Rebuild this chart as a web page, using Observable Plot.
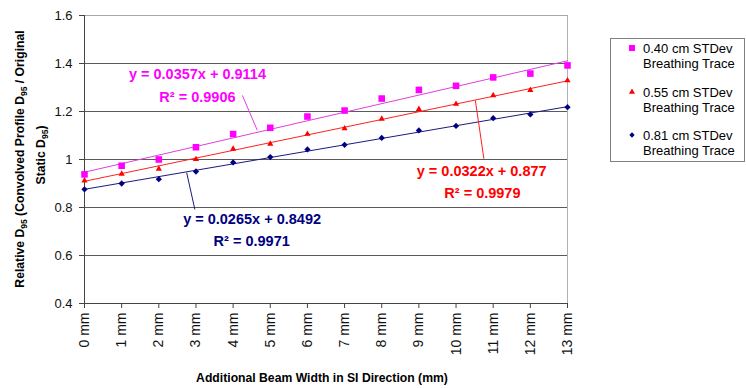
<!DOCTYPE html>
<html><head><meta charset="utf-8">
<script src="https://cdn.jsdelivr.net/npm/d3@7"></script>
<script src="https://cdn.jsdelivr.net/npm/@observablehq/plot@0.6"></script>
<style>body{margin:0;background:#fff;}#chart{width:746px;height:388px;}</style>
</head><body><div id="chart"></div>
<script>
// ---- data ----
const categories = ["0 mm","1 mm","2 mm","3 mm","4 mm","5 mm","6 mm","7 mm","8 mm","9 mm","10 mm","11 mm","12 mm","13 mm"];
const seriesLine1 = ["0.40 cm STDev","0.55 cm STDev","0.81 cm STDev"];
const seriesLine2 = ["Breathing Trace","Breathing Trace","Breathing Trace"];
const values040 = [0.938,0.974,1.000,1.051,1.106,1.132,1.179,1.204,1.254,1.290,1.307,1.342,1.358,1.392];
const values055 = [0.912,0.940,0.961,1.001,1.044,1.065,1.106,1.129,1.169,1.210,1.231,1.267,1.289,1.329];
const values081 = [0.876,0.900,0.918,0.950,0.988,1.010,1.042,1.061,1.090,1.121,1.140,1.172,1.188,1.218];
const slopes = [0.0357,0.0322,0.0265];
const intercepts = [0.9114,0.877,0.8492];
const rSquared = ["0.9906","0.9979","0.9971"];
const yTicks = [0.4,0.6,0.8,1.0,1.2,1.4,1.6];
const gridValues = [0.6,0.8,1.0,1.2,1.4];
// annotation anchors (data units): equation, R², leader start/end
const eqPos = [[3.04,1.354],[10.69,0.950],[4.51,0.750]];
const r2Pos = [[3.04,1.258],[10.71,0.858],[4.50,0.658]];
const leaders = [[4.25,1.267,4.65,1.122],[10.52,1.246,10.75,1.003],[2.75,0.945,2.97,0.792]];

// ---- styles ----
const colors = ["#ff00ff","#ff0000","#000080"];
const lineColors = ["#e040e0","#ff2020","#1a1a80"];
const diamond = {draw(ctx,size){const h=Math.sqrt(size/2);ctx.moveTo(0,-h);ctx.lineTo(h,0);ctx.lineTo(0,h);ctx.lineTo(-h,0);ctx.closePath();}};

const allSeries = [values040, values055, values081];
const points = allSeries.map(vals => vals.map((v,i)=>({x:i,y:v})));
const trends = slopes.map((m,s)=>[0,categories.length-1].map(i=>({x:i,y:intercepts[s]+m*(i+1)})));
const eqData = eqPos.map((p,s)=>({x:p[0],y:p[1],s,text:`y = ${slopes[s]}x + ${intercepts[s]}`}));
const r2Data = r2Pos.map((p,s)=>({x:p[0],y:p[1],s,text:`R² = ${rSquared[s]}`}));
const leaderData = leaders.map((l,s)=>({x1:l[0],y1:l[1],x2:l[2],y2:l[3],s}));

const plot = Plot.plot({
  width:746, height:388,
  marginLeft:84, marginRight:179, marginTop:15, marginBottom:85,
  style:{fontFamily:"'Liberation Sans', Arial, sans-serif", fontSize:"13px", background:"white", color:"#000", overflow:"visible"},
  x:{domain:[0,categories.length-1]},
  y:{domain:[0.4,1.6]},
  marks:[
    Plot.ruleY(gridValues,{stroke:"#5a5a5a",strokeWidth:1}),
    Plot.ruleY([1.6],{stroke:"#a8a8a8"}),
    Plot.ruleX([categories.length-1],{stroke:"#b0b0b0"}),
    Plot.ruleY([0.4],{stroke:"#444"}),
    Plot.ruleX([0],{stroke:"#444"}),
    Plot.axisY({ticks:yTicks, tickFormat:d=>String(+d.toFixed(1)), tickSize:5, tickPadding:7, label:null, stroke:"#444", fill:"#111", fontSize:13}),
    Plot.axisX({ticks:d3.range(categories.length), tickFormat:i=>categories[i], tickRotate:-90, tickSize:5, tickPadding:4, label:null, stroke:"#444", fill:"#111", fontSize:14}),
    ...trends.map((t,s)=>Plot.line(t,{x:"x",y:"y",stroke:lineColors[s],strokeWidth:1})),
    Plot.link(leaderData,{x1:"x1",y1:"y1",x2:"x2",y2:"y2",stroke:d=>lineColors[d.s],strokeWidth:1}),
    Plot.dot(points[2],{x:"x",y:"y",symbol:diamond,r:2.5,fill:colors[2],stroke:"none"}),
    Plot.dot(points[1],{x:"x",y:"y",symbol:"triangle",r:2.3,fill:colors[1],stroke:"none"}),
    Plot.dot(points[0],{x:"x",y:"y",symbol:"square",r:3.7,fill:colors[0],stroke:"none"}),
    Plot.text(eqData,{x:"x",y:"y",text:"text",fill:d=>colors[d.s],fontWeight:"bold",fontSize:14.5}),
    Plot.text(r2Data,{x:"x",y:"y",text:"text",fill:d=>colors[d.s],fontWeight:"bold",fontSize:14.5})
  ]
});
document.getElementById("chart").appendChild(plot);

// ---- titles & legend ----
const svg = d3.select(plot);
const tg = svg.append("g").attr("font-weight","bold").attr("font-size",12.2).attr("text-anchor","middle").attr("fill","#000");
function subText(sel, parts){
  parts.forEach(p=>{
    if(p.sub){ sel.append("tspan").attr("font-size",8.5).attr("dy",3).text(p.t); }
    else { sel.append("tspan").attr("dy", p.after ? -3 : 0).text(p.t); }
  });
}
const l1 = tg.append("text").attr("transform","translate(24,159) rotate(-90)");
subText(l1,[{t:"Relative D"},{t:"95",sub:true},{t:" (Convolved Profile D",after:true},{t:"95",sub:true},{t:" / Original",after:true}]);
const l2 = tg.append("text").attr("transform","translate(45,155) rotate(-90)");
subText(l2,[{t:"Static D"},{t:"95",sub:true},{t:")",after:true}]);
tg.append("text").attr("x",322).attr("y",382).text("Additional Beam Width in SI Direction (mm)");

const lg = svg.append("g").attr("font-size",13).attr("fill","#000").attr("text-anchor","start");
lg.append("rect").attr("x",610.5).attr("y",38.5).attr("width",134).attr("height",123).attr("fill","white").attr("stroke","#808080");
const legendY = [48,92,135];
const legendSyms = [d3.symbol(d3.symbolSquare,36), d3.symbol(d3.symbolTriangle,16), d3.symbol(diamond,14)];
legendY.forEach((y,s)=>{
  lg.append("path").attr("transform",`translate(632,${y})`).attr("d",legendSyms[s]()).attr("fill",colors[s]);
  lg.append("text").attr("x",643).attr("y",y).attr("dy","0.35em").text(seriesLine1[s]);
  lg.append("text").attr("x",643).attr("y",y+15).attr("dy","0.35em").text(seriesLine2[s]);
});
</script>
</body></html>
